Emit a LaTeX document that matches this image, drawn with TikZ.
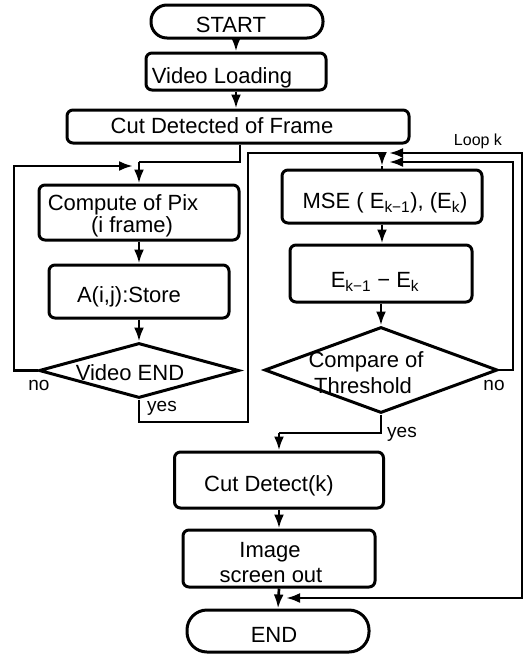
\documentclass[tikz,border=0pt]{standalone}
\usepackage{fontspec}
\setmainfont{Liberation Sans}
\usetikzlibrary{shapes.geometric,arrows.meta}
\begin{document}
\begin{tikzpicture}[x=1pt,y=-1pt,
  box/.style={draw, line width=3pt, rounded corners=6pt, inner sep=0pt},
  term/.style={draw, line width=3pt, rounded corners=16pt, inner sep=0pt},
  dia/.style={draw, diamond, line width=3pt, inner sep=0pt},
  txt/.style={font=\fontsize{22}{26}\selectfont, anchor=base, inner sep=0pt},
  lbl/.style={font=\fontsize{19}{22}\selectfont, anchor=base, inner sep=0pt},
  ln/.style={line width=2.7pt},
  arr/.style={line width=2.7pt, -{Latex[length=14pt,width=10pt]}},
  arrboth/.style={line width=2.7pt, {Latex[length=14pt,width=10pt]}-{Latex[length=14pt,width=10pt]}}]
\useasboundingbox (0,0) rectangle (529,654);

% boxes
\node[term, minimum width=172pt, minimum height=33pt] (start) at (237,21.5) {};
\node[box, minimum width=180pt, minimum height=37pt] (load) at (236,71.5) {};
\node[box, minimum width=342pt, minimum height=33pt] (cut) at (238,126.5) {};
\node[box, minimum width=200pt, minimum height=55pt] (comp) at (139,212.5) {};
\node[box, minimum width=180pt, minimum height=53pt] (store) at (139,291.5) {};
\node[dia, minimum width=200pt, minimum height=55pt] (vend) at (139,370.5) {};
\node[box, minimum width=200pt, minimum height=53pt] (mse) at (382,196.5) {};
\node[box, minimum width=182pt, minimum height=57pt] (diff) at (381,273.5) {};
\node[dia, minimum width=233pt, minimum height=86pt] (cmp) at (381,370) {};
\node[box, minimum width=209pt, minimum height=56pt] (cutk) at (279,480) {};
\node[box, minimum width=192pt, minimum height=57pt] (img) at (279,558.5) {};
\node[term, minimum width=182pt, minimum height=42pt, rounded corners=20pt] (end) at (278,631) {};

% texts
\node[txt] (tstart) at (231,32) {START};
\node[txt] (tload) at (222,83) {Video Loading};
\node[txt] (tcut) at (222,133) {Cut Detected of Frame};
\node[txt] (tcomp1) at (123,210) {Compute of Pix};
\node[txt] (tcomp2) at (132,232) {(i frame)};
\node[txt] (tstore) at (129,302) {A(i,j):Store};
\node[txt] (tvend) at (130,380) {Video END};
\node[txt] (tmse) at (385,208) {MSE ( E\textsubscript{k−1}), (E\textsubscript{k})};
\node[txt] (tdiff) at (375,287) {E\textsubscript{k−1} − E\textsubscript{k}};
\node[txt] (tcmp1) at (366,367) {Compare of};
\node[txt] (tcmp2) at (363,393) {Threshold};
\node[txt] (tcutk) at (269,491) {Cut Detect(k)};
\node[txt] (timg1) at (270,557) {Image};
\node[txt] (timg2) at (271,582) {screen out};
\node[txt] (tend) at (274,642) {END};

% labels
\node[lbl] (no1) at (39,390) {no};
\node[lbl] (no2) at (494,390) {no};
\node[lbl] (yes1) at (162,411) {yes};
\node[lbl] (yes2) at (402,437) {yes};
\node[lbl, font=\fontsize{16}{19}\selectfont] (loopk) at (478,145) {Loop k};

% coordinates
\coordinate (c1) at (240,162);
\coordinate (c2) at (139,162);
\coordinate (l1) at (14,166);
\coordinate (l2) at (133,166);
\coordinate (y1) at (248,422);
\coordinate (j1) at (382,153);
\coordinate (j2) at (382,166);
\coordinate (o1) at (522,153);
\coordinate (o2) at (522,598);
\coordinate (jr) at (389,153);
\coordinate (ea) at (286,598);
\coordinate (n1) at (513,162);
\coordinate (nr) at (389,162);
\coordinate (k1) at (279,433);

% connectors
\draw[arr] (start.south -| load.north) -- (load.north);
\draw[arr] (load.south) -- (load.south |- cut.north);
\draw[ln] (cut.south -| c1) -- (c1) -- (c2);
\draw[arr] (c2) -- (comp.north);
\draw[arr] (comp.south) -- (store.north);
\draw[arr] (store.south) -- (vend.north);
\draw[arr] (vend.west) -| (l1) -- (l2);
\draw[ln] (vend.south) |- (y1) |- (j1);
\draw[arr] (j1) -- (j2);
\draw[ln] (j2) -- (mse.north);
\draw[arr] (mse.south) -- (mse.south |- diff.north);
\draw[arr] (diff.south) -- (cmp.north);
\draw[arr] (cmp.east) -| (n1) -- (nr);
\draw[arrboth] (ea) -- (o2) -- (o1) -- (jr);
\draw[ln] (cmp.south) |- (k1);
\draw[arr] (k1) -- (cutk.north);
\draw[arr] (cutk.south) -- (img.north);
\draw[arr] (img.south) -- (end.north);
\end{tikzpicture}
\end{document}
